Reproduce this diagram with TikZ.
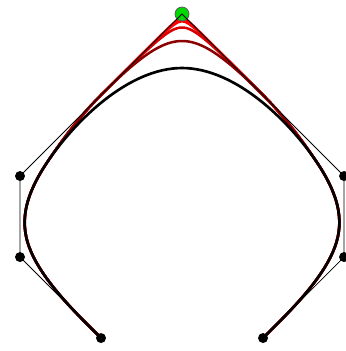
\documentclass[tikz,border=0pt]{standalone}
\usepackage{tikz}
\usetikzlibrary{backgrounds}
\tikzset{
  ctrlpt/.style={circle, fill=black, inner sep=0pt, minimum size=7.5pt},
  toppt/.style={circle, draw=black!65, fill=green!85!black, line width=0.6pt, inner sep=0pt, minimum size=10.5pt},
  cpoly/.style={draw=black, line width=0.6pt},
  nurbs/.style={line width=1.9pt, line cap=round},
  declare function={
    cden(\a,\s)=(1-\s)^2+2*\a*\s*(1-\s)+\s^2;
    conx(\a,\s)=((1-\s)^2+4*\a*\s*(1-\s)+3*\s^2)/cden(\a,\s);
    cony(\a,\s)=(3*(1-\s)^2+8*\a*\s*(1-\s)+3*\s^2)/cden(\a,\s);
  }
}

\begin{document}
\begin{tikzpicture}[x=2.14cm, y=2.14cm]
\useasboundingbox (-0.247,-0.160) rectangle (4.012,4.173);
\node[ctrlpt] (p0) at (1,0) {};
\node[ctrlpt] (p1) at (0,1) {};
\node[ctrlpt] (p2) at (0,2) {};
\node[toppt] (p3) at (2,4) {};
\node[ctrlpt] (p4) at (4,2) {};
\node[ctrlpt] (p5) at (4,1) {};
\node[ctrlpt] (p6) at (3,0) {};
\coordinate (sl) at (0.8333,0.1667);
\coordinate (sr) at (3.1667,0.1667);
\coordinate (tl) at (0.1667,1);
\coordinate (tr) at (3.8333,1);
\coordinate (bl) at (0.3333,2.1667);
\coordinate (br) at (3.6667,2.1667);
\coordinate (al) at (1,3);
\coordinate (ar) at (3,3);
\coordinate (top) at (2,3.3333);
\draw[cpoly] (p0.center) -- (p1.center) -- (p2.center) -- (p3.center) -- (p4.center) -- (p5.center) -- (p6.center);
\begin{pgfonlayer}{background}
\foreach \w/\col in {20/red, 10/red, 5/red!85!black, 2/red!55!black} {
  \draw[nurbs, \col] (p0.center) -- (sl) .. controls (0.6667,0.3333) and (0.3333,0.6667) .. (tl)
    .. controls (0,1.3333) and (0,1.6667) .. (bl)
    .. controls (0.5556,2.5) and (0.7778,2.7778) .. (al)
    -- plot[variable=\t, domain=0:1, samples=80] ({conx(\w,\t)},{cony(\w,\t)})
    -- (ar) .. controls (3.2222,2.7778) and (3.4444,2.5) .. (br)
    .. controls (4,1.6667) and (4,1.3333) .. (tr)
    .. controls (3.6667,0.6667) and (3.3333,0.3333) .. (sr) -- (p6.center);
}
\draw[nurbs, line width=2pt] (p0.center) -- (sl) .. controls (0.6667,0.3333) and (0.3333,0.6667) .. (tl)
  .. controls (0,1.3333) and (0,1.6667) .. (bl)
  .. controls (0.6667,2.6667) and (1.3333,3.3333) .. (top)
  .. controls (2.6667,3.3333) and (3.3333,2.6667) .. (br)
  .. controls (4,1.6667) and (4,1.3333) .. (tr)
  .. controls (3.6667,0.6667) and (3.3333,0.3333) .. (sr) -- (p6.center);
\end{pgfonlayer}
\end{tikzpicture}
\end{document}
